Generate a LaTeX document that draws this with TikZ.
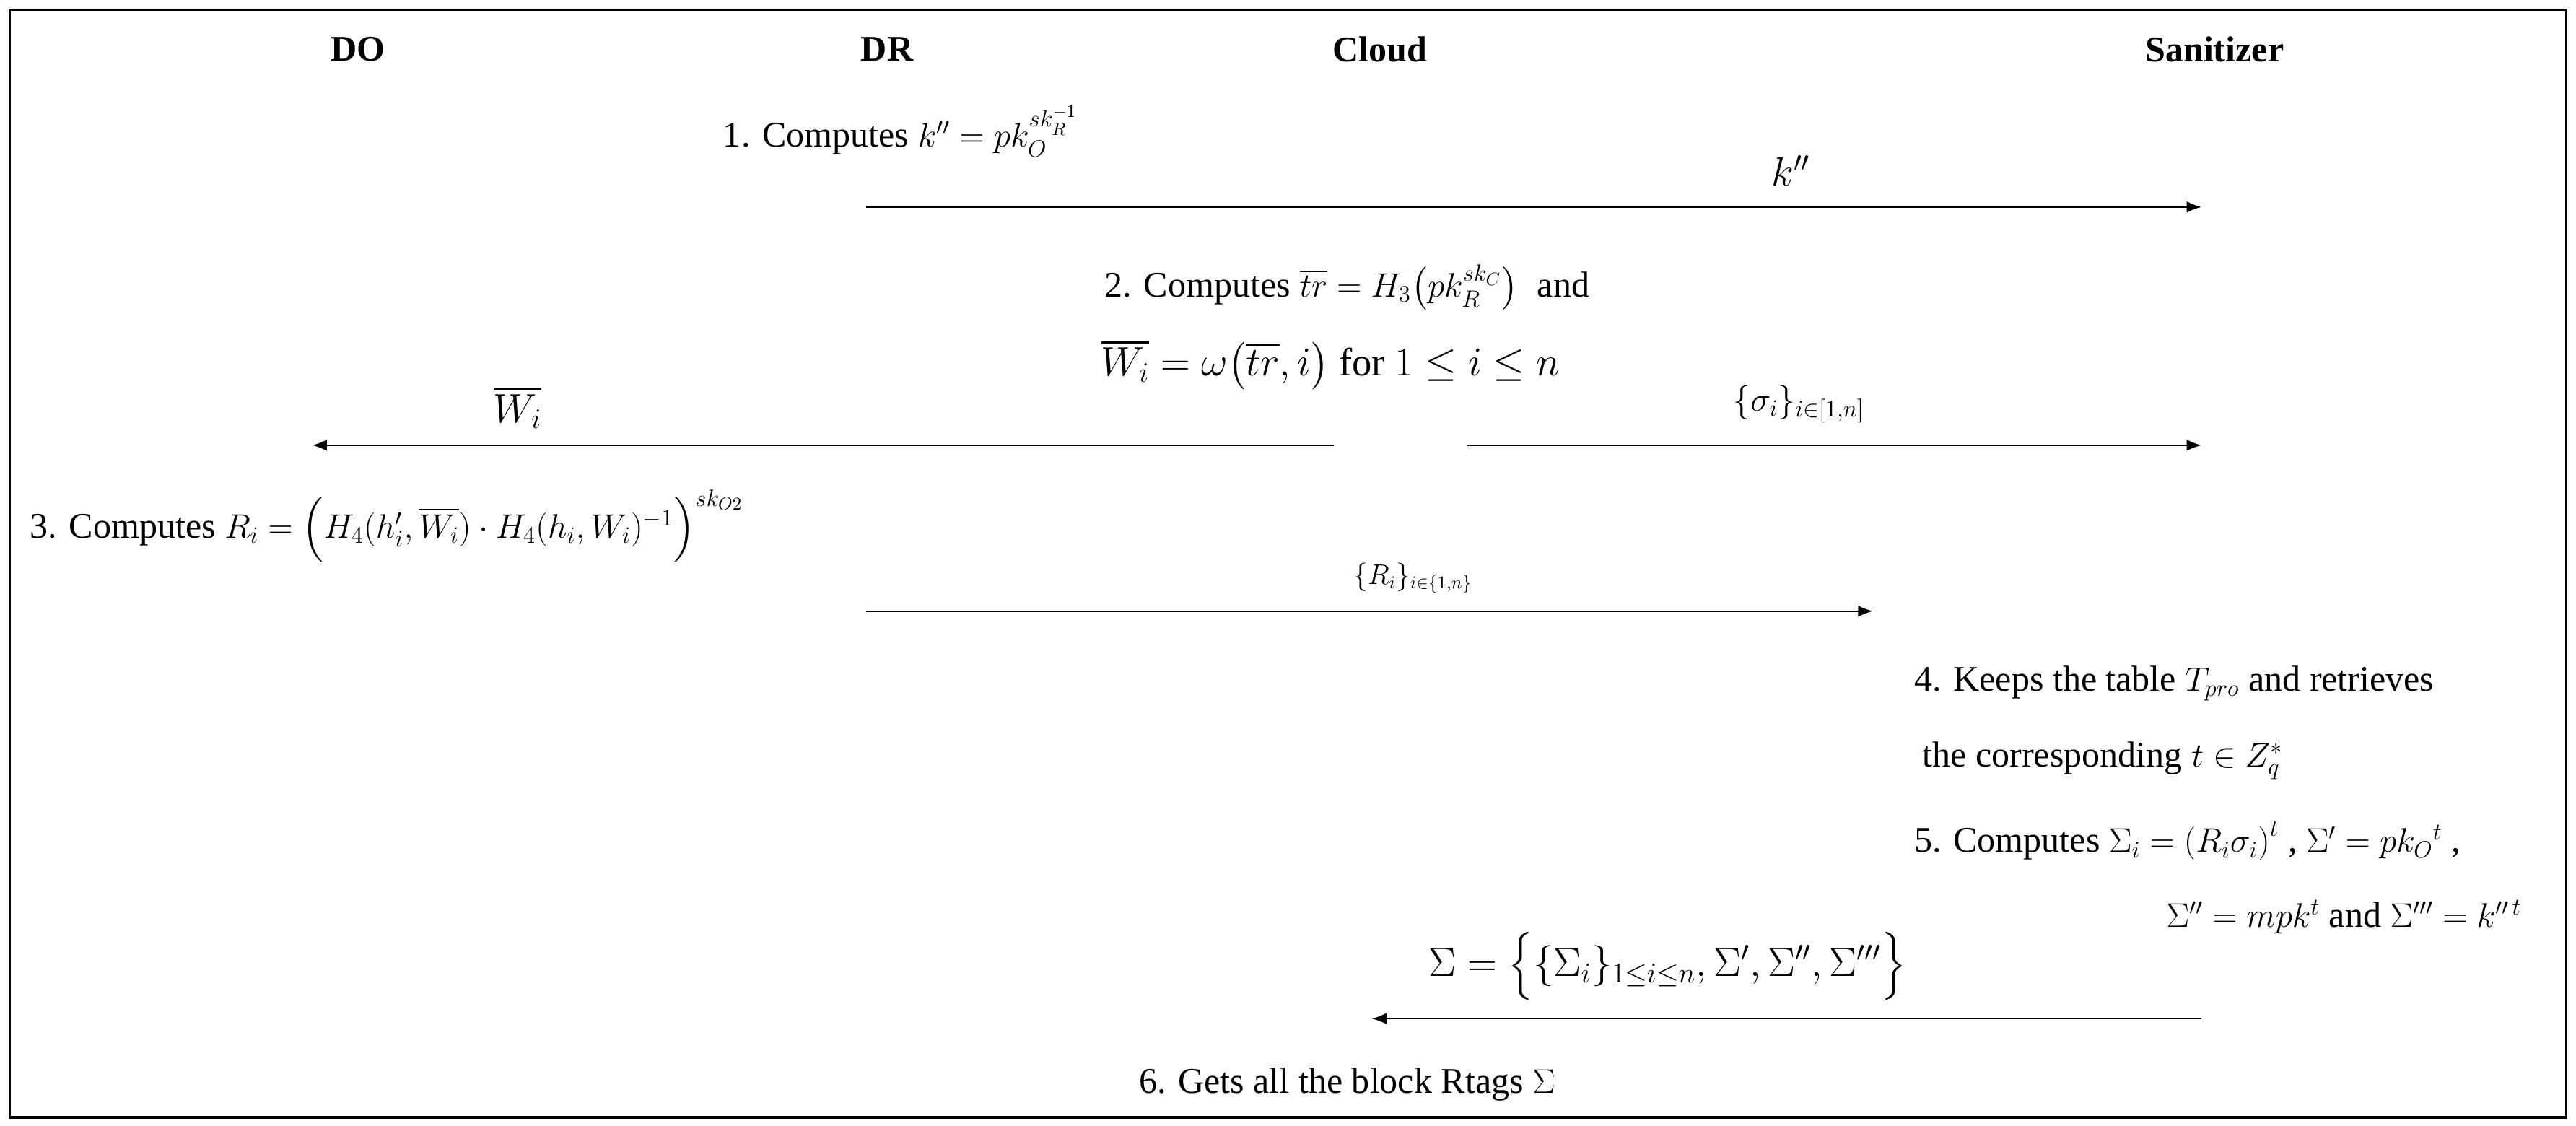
\documentclass[tikz,border=0pt]{standalone}
\usepackage{amsmath,amssymb}
\usepackage{fontspec}
\setmainfont{Liberation Serif}
\usetikzlibrary{arrows.meta}
\begin{document}
\begin{tikzpicture}[x=1pt,y=-1pt,
  hdr/.style={font=\fontsize{22}{26}\selectfont\bfseries},
  txt/.style={font=\fontsize{22}{26}\selectfont,inner sep=0pt},
  msg/.style={-{Latex[length=9pt,width=7pt]},line width=1pt},
  lbl/.style={font=\fontsize{25}{30}\selectfont,inner sep=0pt}]
\useasboundingbox (0,0) rectangle (1568,685);
\draw[line width=1.6pt] (6,6) rectangle (1562,680);
\node[hdr] (DO) at (218,30) {DO};
\node[hdr] (DR) at (540,30) {DR};
\node[hdr] (CL) at (840,30) {Cloud};
\node[hdr] (SA) at (1348,30) {Sanitizer};
% step 1
\node[txt,anchor=west] (t1) at (440,80) {1. Computes $k''=pk_O^{sk_R^{-1}}$};
\coordinate (a1s) at (527,126); \coordinate (a1e) at (1340,126);
\draw[msg] (a1s) -- (a1e);
\node[lbl] (l1) at (1090,104) {$k''$};
% step 2
\node[txt] (t2a) at (820,175) {2. Computes $\overline{tr}=H_3\!\left(pk_R^{sk_C}\right)$\; and};
\node[txt,font=\fontsize{24}{28}\selectfont] (t2b) at (810,222) {$\overline{W_i}=\omega\!\left(\overline{tr},i\right)$ for $1\le i\le n$};
\coordinate (a2s) at (812,271); \coordinate (a2e) at (190,271);
\draw[msg] (a2s) -- (a2e);
\node[lbl] (l2) at (315,248) {$\overline{W_i}$};
\coordinate (a3s) at (893,271); \coordinate (a3e) at (1340,271);
\draw[msg] (a3s) -- (a3e);
\node[lbl,font=\fontsize{22}{26}\selectfont] (l3) at (1095,246) {$\{\sigma_i\}_{i\in[1,n]}$};
% step 3
\node[txt,anchor=west] (t3) at (18,320) {3. Computes $R_i=\Bigl(H_4(h_i',\overline{W_i})\cdot H_4(h_i,W_i)^{-1}\Bigr)^{sk_{O2}}$};
\coordinate (a4s) at (527,372); \coordinate (a4e) at (1140,372);
\draw[msg] (a4s) -- (a4e);
\node[lbl,font=\fontsize{16}{20}\selectfont] (l4) at (860,352) {$\{R_i\}_{i\in\{1,n\}}$};
% step 4
\node[txt,anchor=west] (t4a) at (1165,416) {4. Keeps the table $T_{pro}$ and retrieves};
\node[txt,anchor=west] (t4b) at (1170,463) {the corresponding $t\in Z_q^*$};
% step 5
\node[txt,anchor=west] (t5a) at (1165,512) {5. Computes $\Sigma_i=\left(R_i\sigma_i\right)^t$ , $\Sigma'=pk_O{}^t$ ,};
\node[txt,anchor=east] (t5b) at (1535,558) {$\Sigma''=mpk^t$ and $\Sigma'''=k''^{\,t}$};
\node[lbl,font=\fontsize{23}{28}\selectfont] (l5) at (1015,588) {$\Sigma=\Bigl\{\{\Sigma_i\}_{1\le i\le n},\Sigma',\Sigma'',\Sigma'''\Bigr\}$};
\coordinate (a5s) at (1340,620); \coordinate (a5e) at (835,620);
\draw[msg] (a5s) -- (a5e);
% step 6
\node[txt] (t6) at (820,660) {6. Gets all the block Rtags $\Sigma$};
\end{tikzpicture}
\end{document}
